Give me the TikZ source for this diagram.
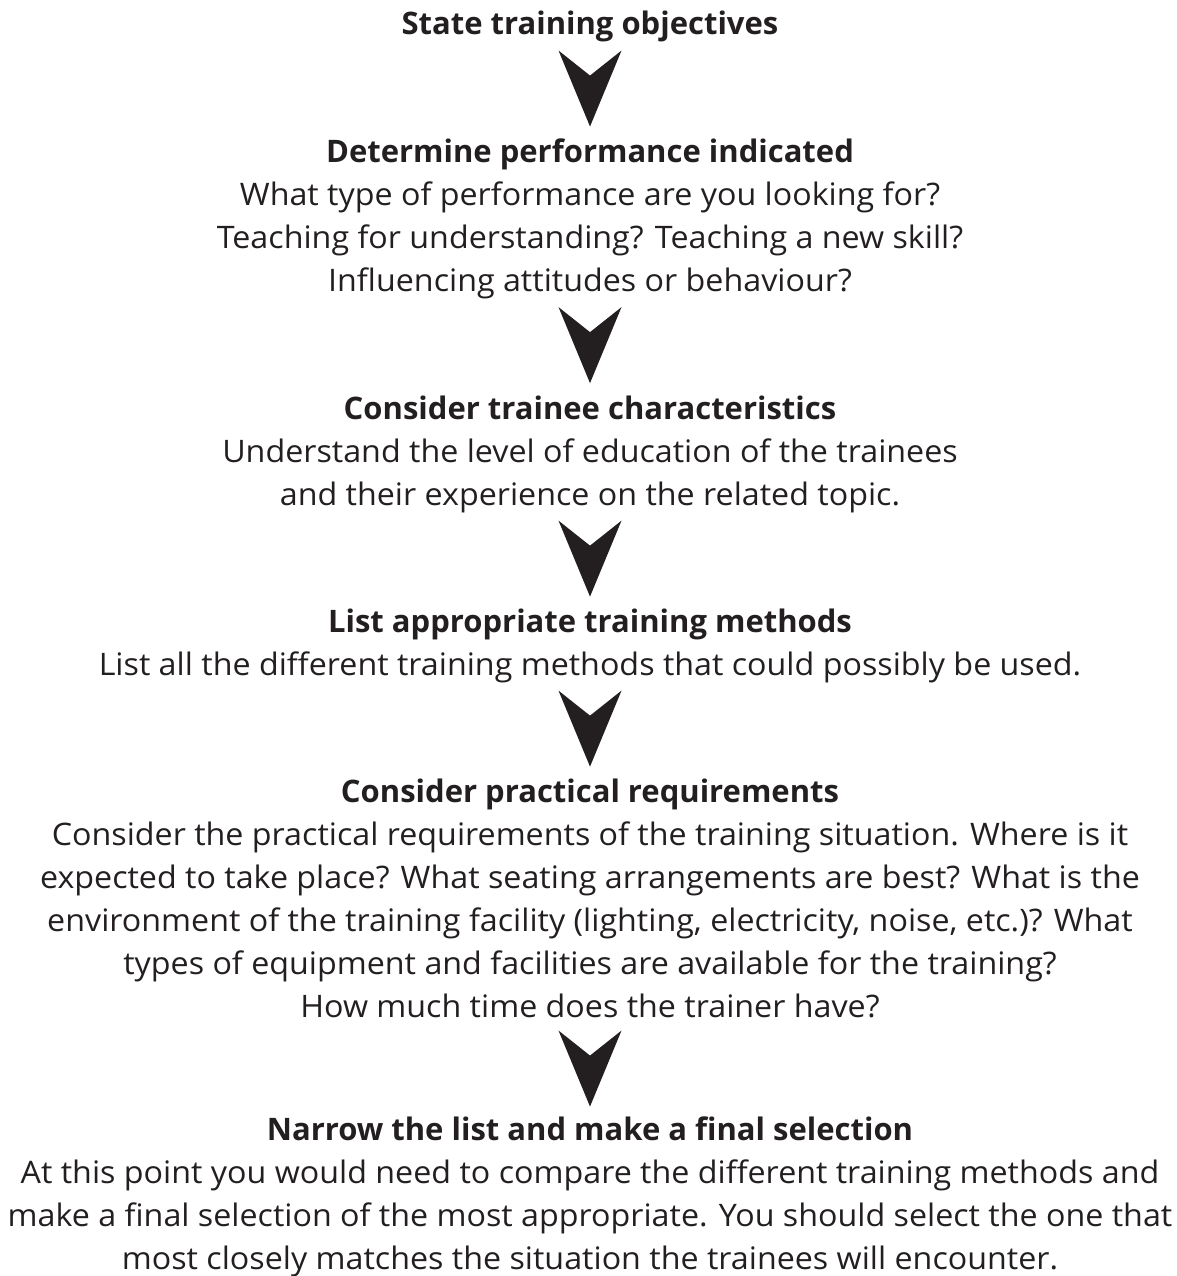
\documentclass[tikz,border=0pt]{standalone}
\usepackage{fontspec}
\setmainfont{Open Sans}[FakeStretch=1.04, BoldFeatures={FakeStretch=1.0}]
\usepackage{xcolor}
\definecolor{ink}{HTML}{231F20}

\tikzset{
  stepnode/.style={align=center, inner sep=0pt, anchor=base, text=ink,
                   font=\fontsize{31pt}{43pt}\selectfont},
  chevron/.pic={\fill[ink] (-31.5,38) -- (0,13) -- (31.5,38) -- (0,-38) -- cycle;}
}

\begin{document}
\begin{tikzpicture}[x=1pt, y=1pt]
  \useasboundingbox (0,0) rectangle (1177,-1276);
  % each node sits on the baseline of its last line
  \node[stepnode] (objectives) at (590,-35) {\textbf{State training objectives}};
  \node[stepnode] (performance) at (590,-291)
       {\textbf{Determine performance indicated}\\
        What type of performance are you looking for?\\
        Teaching for understanding? Teaching a new skill?\\
        Influencing attitudes or behaviour?};
  \node[stepnode] (trainees) at (590,-505)
       {\textbf{Consider trainee characteristics}\\
        Understand the level of education of the trainees\\
        and their experience on the related topic.};
  \node[stepnode] (methods) at (590,-675)
       {\textbf{List appropriate training methods}\\
        List all the different training methods that could possibly be used.};
  \node[stepnode] (practical) at (590,-1017)
       {\textbf{Consider practical requirements}\\
        Consider the practical requirements of the training situation. Where is it\\
        expected to take place? What seating arrangements are best? What is the\\
        environment of the training facility (lighting, electricity, noise, etc.)? What\\
        types of equipment and facilities are available for the training?\\
        How much time does the trainer have?};
  \node[stepnode] (selection) at (590,-1269)
       {\textbf{Narrow the list and make a final selection}\\
        At this point you would need to compare the different training methods and\\
        make a final selection of the most appropriate. You should select the one that\\
        most closely matches the situation the trainees will encounter.};
  % chevrons between the steps
  \path (objectives.base) -- (performance.north) pic[pos=.5, yshift=-2]{chevron};
  \path (performance.base) -- (trainees.north) pic[pos=.5, yshift=-2]{chevron};
  \path (trainees.base) -- (methods.north) pic[pos=.5, yshift=-2]{chevron};
  \path (methods.base) -- (practical.north) pic[pos=.5, yshift=-2]{chevron};
  \path (practical.base) -- (selection.north) pic[pos=.5, yshift=-2]{chevron};
\end{tikzpicture}
\end{document}
